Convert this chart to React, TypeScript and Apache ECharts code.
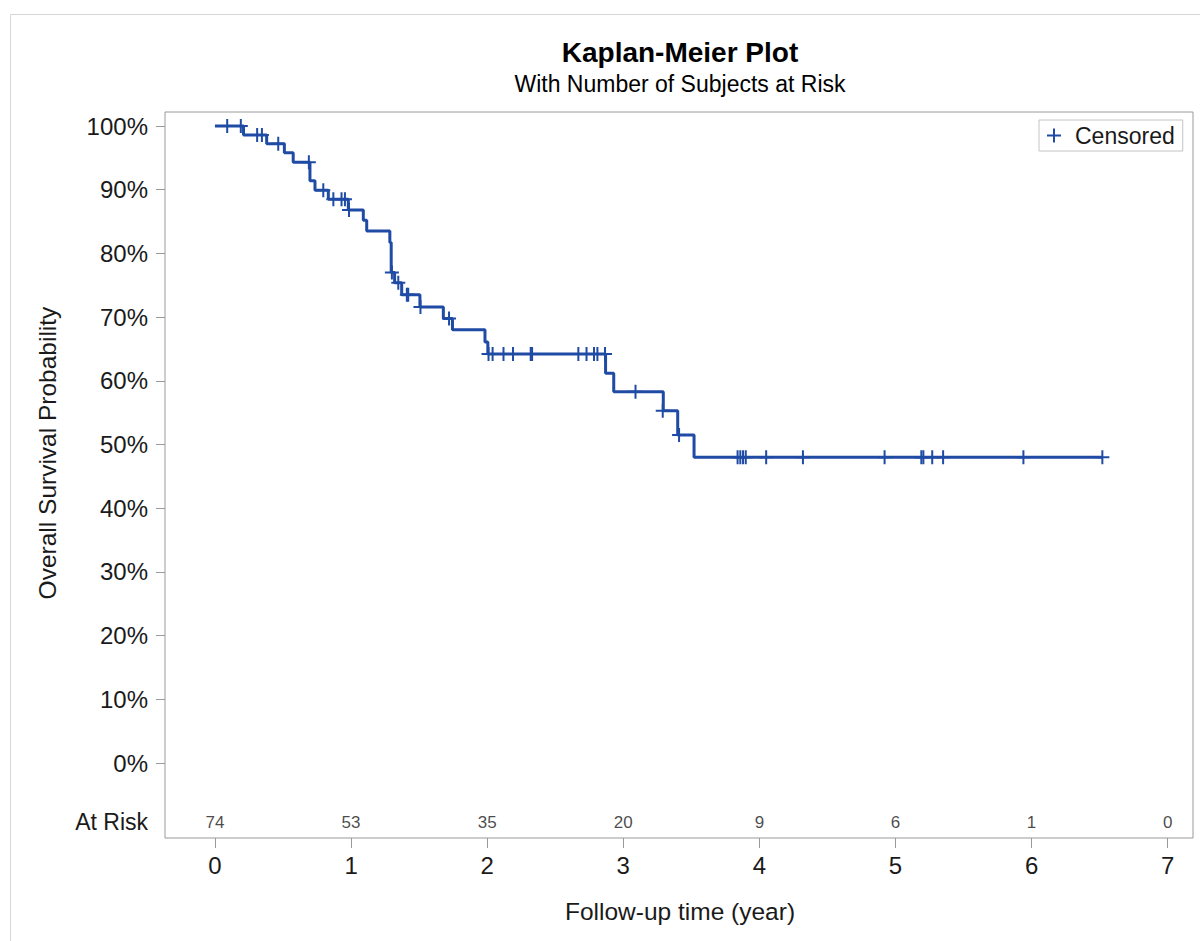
import React, { useEffect, useRef } from "react";
import * as echarts from "echarts";

// Kaplan-Meier step curve (time in years, survival %)
const stepTimes = [0, 0.21, 0.38, 0.51, 0.575, 0.698, 0.735, 0.833, 0.98, 1.09, 1.115, 1.285, 1.295, 1.32, 1.372, 1.506, 1.678, 1.745, 1.984, 2.005, 2.87, 2.93, 3.294, 3.4, 3.52, 6.52];
const stepSurv = [100, 98.6, 97.2, 95.8, 94.3, 91.4, 89.9, 88.5, 86.8, 85.2, 83.5, 81.7, 77.0, 75.4, 73.5, 71.6, 69.8, 68.0, 66.1, 64.2, 61.2, 58.3, 55.3, 51.5, 48.0, 48.0];

// Censored observations
const censorTimes = [0.09, 0.19, 0.31, 0.345, 0.465, 0.69, 0.796, 0.87, 0.93, 0.955, 0.985, 1.3, 1.347, 1.41, 1.42, 1.51, 1.72, 2.01, 2.04, 2.12, 2.19, 2.32, 2.33, 2.67, 2.73, 2.785, 2.81, 2.866, 3.09, 3.29, 3.41, 3.84, 3.86, 3.88, 3.9, 4.05, 4.32, 4.92, 5.19, 5.205, 5.27, 5.35, 5.94, 6.52];
const censorSurv = [100, 100, 98.6, 98.6, 97.2, 94.3, 89.9, 88.5, 88.5, 88.5, 86.8, 77.0, 75.4, 73.5, 73.5, 71.6, 69.8, 64.2, 64.2, 64.2, 64.2, 64.2, 64.2, 64.2, 64.2, 64.2, 64.2, 64.2, 58.3, 55.3, 51.5, 48.0, 48.0, 48.0, 48.0, 48.0, 48.0, 48.0, 48.0, 48.0, 48.0, 48.0, 48.0, 48.0];

// Number at risk
const riskTimes = [0, 1, 2, 3, 4, 5, 6, 7];
const riskCounts = [74, 53, 35, 20, 9, 6, 1, 0];
const riskRowY = -9.26;

const xTicks = [0, 1, 2, 3, 4, 5, 6, 7];
const yTicks = [0, 10, 20, 30, 40, 50, 60, 70, 80, 90, 100];

const FONT = '"Liberation Sans", Arial, sans-serif';
const BLUE = "#1F4BA5";
const FRAME = "#9a9a9a";
const TEXT = "#1a1a1a";
const PLUS = "path://M6,0L8,0L8,14L6,14Z M0,6L14,6L14,8L0,8Z";

function txt(text: string, x: number, y: number, size: number, opts: any = {}) {
  return {
    type: "text",
    x,
    y,
    rotation: opts.rotation || 0,
    silent: true,
    style: {
      text,
      fontSize: size,
      fontFamily: FONT,
      fontWeight: opts.bold ? "bold" : "normal",
      fill: opts.fill || TEXT,
      align: opts.align || "center",
      textAlign: opts.align || "center",
      verticalAlign: "middle",
      textVerticalAlign: "middle",
    },
  };
}

export default function App() {
  const ref = useRef<HTMLDivElement>(null);
  useEffect(() => {
    const chart = echarts.init(ref.current!, null, { renderer: "svg" });
    chart.setOption({
      animation: false,
      backgroundColor: "#ffffff",
      grid: {
        left: 165,
        top: 112,
        right: 7,
        bottom: 103,
        show: true,
        borderColor: FRAME,
        borderWidth: 1,
        backgroundColor: "transparent",
      },
      xAxis: {
        type: "value",
        min: -0.367,
        max: 7.186,
        axisLine: { show: false, onZero: false },
        splitLine: { show: false },
        axisTick: { show: true, customValues: xTicks, length: 10, lineStyle: { color: FRAME } },
        axisLabel: { customValues: xTicks, margin: 15, fontSize: 24, color: TEXT, fontFamily: FONT },
      },
      yAxis: {
        type: "value",
        min: -11.77,
        max: 102.2,
        axisLine: { show: false, onZero: false },
        splitLine: { show: false },
        axisTick: { show: true, customValues: yTicks, length: 9, lineStyle: { color: FRAME } },
        axisLabel: {
          customValues: yTicks,
          margin: 17,
          fontSize: 24,
          color: TEXT,
          fontFamily: FONT,
          formatter: "{value}%",
        },
      },
      legend: {
        data: [{ name: "Censored", icon: PLUS }],
        left: 1039,
        top: 120,
        orient: "horizontal",
        itemWidth: 14,
        itemHeight: 14,
        itemGap: 0,
        padding: [4, 8, 4, 8],
        borderColor: "#c4c4c4",
        borderWidth: 1,
        backgroundColor: "#ffffff",
        itemStyle: { color: BLUE },
        textStyle: { fontSize: 23, color: TEXT, fontFamily: FONT, padding: [0, 0, 0, 9] },
        selectedMode: false,
      },
      series: [
        {
          name: "KM",
          type: "line",
          step: "end",
          showSymbol: false,
          silent: true,
          z: 2,
          lineStyle: { color: BLUE, width: 3 },
          itemStyle: { color: BLUE },
          data: stepTimes.map((t, i) => [t, stepSurv[i]]),
        },
        {
          name: "Censored",
          type: "scatter",
          symbol: PLUS,
          symbolSize: 14,
          silent: true,
          z: 3,
          itemStyle: { color: BLUE, opacity: 1 },
          data: censorTimes.map((t, i) => [t, censorSurv[i]]),
        },
        {
          name: "AtRisk",
          type: "scatter",
          symbolSize: 0,
          silent: true,
          z: 4,
          itemStyle: { color: "transparent" },
          label: {
            show: true,
            position: "inside",
            fontSize: 17,
            color: TEXT,
            fontFamily: FONT,
            formatter: (p: any) => String(p.value[2]),
          },
          data: riskTimes.map((t, i) => [t, riskRowY, riskCounts[i]]),
        },
      ],
      graphic: [
        {
          type: "rect",
          silent: true,
          z: -10,
          shape: { x: 10.5, y: 14.5, width: 1400, height: 1100 },
          style: { fill: "none", stroke: "#d6d6d6", lineWidth: 1 },
        },
        txt("Kaplan-Meier Plot", 680, 52, 28, { bold: true, fill: "#000" }),
        txt("With Number of Subjects at Risk", 680, 84, 23, { fill: "#000" }),
        txt("Overall Survival Probability", 47, 453, 24.5, { rotation: Math.PI / 2 }),
        txt("Follow-up time (year)", 680, 911, 24.5),
        txt("At Risk", 148, 822, 23, { align: "right" }),
      ],
    });
    return () => chart.dispose();
  }, []);
  return (
    <div
      ref={ref}
      style={{ position: "absolute", left: 0, top: 0, width: 1200, height: 941 }}
    />
  );
}
